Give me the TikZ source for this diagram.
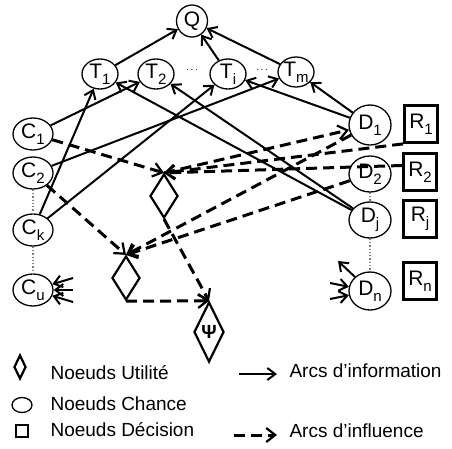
\documentclass[tikz,border=0pt]{standalone}
\usepackage{fontspec}
\setmainfont{Liberation Sans}
\usetikzlibrary{shapes.geometric,arrows.meta,calc}

\newcommand{\lab}[2]{#1\raisebox{-0.5ex}{\fontsize{15}{15}\selectfont #2}}

\begin{document}
\begin{tikzpicture}[x=1pt,y=-1pt,
  every node/.style={font=\fontsize{19}{22}\selectfont},
  chance/.style={ellipse,draw,line width=1.3pt,minimum width=40pt,minimum height=32pt,inner sep=0pt,font=\fontsize{21}{22}\selectfont},
  tache/.style={ellipse,draw,line width=1.3pt,minimum width=36pt,minimum height=30pt,inner sep=0pt,font=\fontsize{21}{22}\selectfont},
  decis/.style={rectangle,draw,line width=2.8pt,minimum width=33pt,minimum height=37pt,inner sep=0pt,font=\fontsize{21}{22}\selectfont},
  util/.style={diamond,draw,line width=2.2pt,minimum width=28pt,minimum height=44pt,inner sep=0pt},
  info/.style={line width=2pt,-{Straight Barb[length=8pt,width=12pt,line width=2pt]}},
  infl/.style={line width=3pt,dash pattern=on 11pt off 6pt,-{Straight Barb[length=9pt,width=14pt,line width=2.2pt]}},
  pointille/.style={line width=1.3pt,dotted,gray}]
\useasboundingbox (0,0) rectangle (452,448);

% noeuds chance
\node[chance,minimum width=31pt,minimum height=32pt] (q) at (192,21) {Q};
\node[tache] (t1) at (100,74) {\lab{T}{1}};
\node[tache] (t2) at (156,74) {\lab{T}{2}};
\node[tache] (ti) at (228,74) {\lab{T}{i}};
\node[tache] (tm) at (296,72) {\lab{T}{m}};
\node (dot1) at (192,70) {\fontsize{10}{10}\selectfont$\cdots$};
\node (dot2) at (262,70) {\fontsize{10}{10}\selectfont$\cdots$};
\node[chance] (c1) at (33,134) {\lab{C}{1}};
\node[chance] (c2) at (33,173) {\lab{C}{2}};
\node[chance] (ck) at (33,230) {\lab{C}{k}};
\node[chance] (cu) at (33,290) {\lab{C}{u}};
\node[chance,minimum width=42pt,minimum height=40pt] (d1) at (370,125) {\lab{D}{1}};
\node[chance,minimum width=42pt,minimum height=36pt] (d2) at (370,174) {\lab{D}{2}};
\node[chance,minimum width=42pt,minimum height=36pt] (dj) at (370,220) {\lab{D}{j}};
\node[chance,minimum width=42pt,minimum height=38pt] (dn) at (370,291) {\lab{D}{n}};

% noeuds decision
\node[decis] (r1) at (421,124) {\lab{R}{1}};
\node[decis] (r2) at (420,172) {\lab{R}{2}};
\node[decis] (rj) at (420,219) {\lab{R}{j}};
\node[decis] (rn) at (420,281) {\lab{R}{n}};

% noeuds utilite
\node[util] (u1) at (164,196) {};
\node[util] (u2) at (126,278) {};
\node[util,minimum width=30pt,minimum height=60pt] (psi) at (209,332) {\textbf{Ψ}};

\draw[pointille] (c2) -- (ck);
\draw[pointille] (ck) -- (cu);
\draw[pointille] (d2) -- (dj);
\draw[pointille] (dj) -- (dn);

% arcs d'information
\draw[info] (t1) -- (q);
\draw[info] (ti) -- (q);
\draw[info] (tm) -- (q);
\draw[info] (c1) -- (t2);
\draw[info] (ck) -- (t1);
\draw[info] (ck) -- (ti);
\draw[info] (c2) -- (tm);
\draw[info] (d1) -- (ti);
\draw[info] (d1) -- (tm);
\draw[info] (dj) -- (t1);
\draw[info] (dj) -- (t2);
\draw[info] (dn) -- +(-32,-30);
\foreach \a in {-12,0,12} {\draw[info] ($(cu)+(40,\a)$) -- (cu);}
\foreach \a in {-8,8} {\draw[info] ($(dn)+(-40,\a)$) -- (dn);}

% arcs d'influence
\draw[infl] (c1) -- (u1.north);
\draw[infl] (c2) -- (u2.north);
\draw[infl] (r1.south west) -- (u1.north);
\draw[infl] (r2.160) -- (u1.north);
\draw[infl] (u1.north) -- (d1);
\draw[infl] (d1) -- (u2.north);
\draw[infl] (d2) -- (u2.north);
\draw[infl] (u1.south) -- (psi.north);
\draw[infl] (u2.south) -- (psi.north);

% legende
\node[diamond,draw,line width=2.2pt,minimum width=12pt,minimum height=24pt,inner sep=0pt] (lu) at (20,367) {};
\node[anchor=west] (tu) at (47,373) {Noeuds Utilité};
\node[ellipse,draw,line width=1.3pt,minimum width=20pt,minimum height=15pt,inner sep=0pt] (lc) at (22,405) {};
\node[anchor=west] (tc) at (47,404) {Noeuds Chance};
\node[rectangle,draw,line width=2.8pt,minimum width=12pt,minimum height=12pt,inner sep=0pt] (ld) at (22,431) {};
\node[anchor=west] (td) at (47,430) {Noeuds Décision};
\coordinate (ia) at (239,374);
\coordinate (ib) at (277,374);
\draw[info,line width=2.6pt] (ia) -- (ib);
\node[anchor=west] (ti2) at (286,371) {Arcs d'information};
\coordinate (fa) at (234,435);
\coordinate (fb) at (277,435);
\draw[infl] (fa) -- (fb);
\node[anchor=west] (tf) at (286,431) {Arcs d'influence};
\end{tikzpicture}
\end{document}
